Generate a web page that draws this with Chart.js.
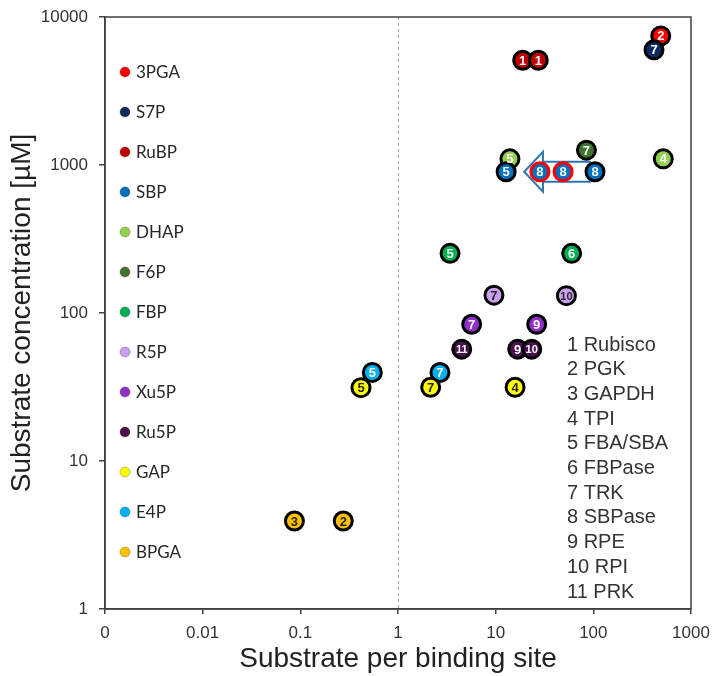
<!DOCTYPE html>
<html><head><meta charset="utf-8">
<script src="https://cdn.jsdelivr.net/npm/chart.js@4.4.1/dist/chart.umd.min.js"></script>
<style>html,body{margin:0;padding:0;background:#fff;}canvas{display:block;}</style>
</head><body>
<canvas id="c" width="719" height="676"></canvas>
<script>
// ---------------- DATA ----------------
const metabolites = ['3PGA','S7P','RuBP','SBP','DHAP','F6P','FBP','R5P','Xu5P','Ru5P','GAP','E4P','BPGA'];
const enzymes = ['Rubisco','PGK','GAPDH','TPI','FBA/SBA','FBPase','TRK','SBPase','RPE','RPI','PRK'];

// one entry per plotted point (later entries are drawn on top)
const ptMetabolite = ['BPGA','BPGA','E4P','E4P','GAP','GAP','GAP','Ru5P','Ru5P','Ru5P','Xu5P','Xu5P','R5P','R5P','FBP','FBP','DHAP','DHAP','F6P','SBP','SBP','SBP','SBP','RuBP','RuBP','3PGA','S7P'];
const ptEnzyme     = [3,2,5,7,5,7,4,11,9,10,7,9,7,10,5,6,5,4,7,5,8,8,8,1,1,2,7];
const ptX          = [0.087,0.275,0.546,2.69,0.418,2.16,15.8,4.49,16.8,23.4,5.68,26.3,9.6,53,3.41,60,14,520,85,12.8,28.4,49,104,18.9,27.3,490,418];
const ptY          = [3.93,3.93,39.7,39.6,31.3,31.5,31.5,57,57,57,84,84,132,131,253,253,1100,1100,1260,900,900,900,900,5100,5100,7450,6000];

const xTickValues = [0.001,0.01,0.1,1,10,100,1000];
const xTickLabels = ['0','0.01','0.1','1','10','100','1000'];
const yTickValues = [1,10,100,1000,10000];
const yTickLabels = ['1','10','100','1000','10000'];

const refLineX = 1;              // dashed vertical reference
const arrowFromX = 92, arrowToX = 19.6, arrowHeadX = 30.5, arrowY = 900;

// ---------------- STYLE ----------------
const metaboliteColors = {
  '3PGA':'#ff0000','S7P':'#0d2b5e','RuBP':'#c00000','SBP':'#0070c0','DHAP':'#92d050',
  'F6P':'#3f7430','FBP':'#00b050','R5P':'#c9a0ee','Xu5P':'#9030c8','Ru5P':'#4b1050',
  'GAP':'#ffff00','E4P':'#00b0f0','BPGA':'#ffc000'
};
const darkLabelOn = ['GAP','BPGA','R5P'];
const redRimIdx = [20,21];
const FONT = "'Liberation Sans', Arial, sans-serif";
const AXIS = '#404040';

const pointColors = ptMetabolite.map(m => metaboliteColors[m]);
const pointBorders = ptMetabolite.map((m,i) => redRimIdx.includes(i) ? '#ff0000' : '#000000');

const framePlugin = {
  id:'frame',
  beforeDatasetsDraw(chart){
    const {ctx, chartArea:a, scales:{x,y}} = chart;
    ctx.save();
    const px = x.getPixelForValue(refLineX);
    ctx.strokeStyle = '#a6a6a6'; ctx.lineWidth = 1; ctx.setLineDash([3,3]);
    ctx.beginPath(); ctx.moveTo(px+0.5, a.top); ctx.lineTo(px+0.5, a.bottom); ctx.stroke();
    ctx.setLineDash([]);
    ctx.strokeStyle = AXIS; ctx.lineWidth = 1.5;
    ctx.strokeRect(a.left, a.top, a.right-a.left, a.bottom-a.top);
    const yy = y.getPixelForValue(arrowY);
    const x0 = x.getPixelForValue(arrowFromX), xt = x.getPixelForValue(arrowToX), xh = x.getPixelForValue(arrowHeadX);
    const sh = 10, hh = 20;
    ctx.beginPath();
    ctx.moveTo(x0, yy-sh); ctx.lineTo(xh, yy-sh); ctx.lineTo(xh, yy-hh); ctx.lineTo(xt, yy);
    ctx.lineTo(xh, yy+hh); ctx.lineTo(xh, yy+sh); ctx.lineTo(x0, yy+sh); ctx.closePath();
    ctx.fillStyle = '#ffffff'; ctx.fill();
    ctx.strokeStyle = '#2e75b6'; ctx.lineWidth = 2; ctx.stroke();
    ctx.restore();
  },
  afterDatasetsDraw(chart){
    const {ctx} = chart;
    const meta = chart.getDatasetMeta(0);
    ctx.save();
    ctx.textAlign = 'center'; ctx.textBaseline = 'middle';
    meta.data.forEach((el,i) => {
      const t = String(ptEnzyme[i]);
      ctx.font = 'bold ' + (t.length > 1 ? 11 : 13) + 'px ' + FONT;
      ctx.fillStyle = darkLabelOn.includes(ptMetabolite[i]) ? '#262626' : '#ffffff';
      ctx.fillText(t, el.x, el.y + 1);
    });
    ctx.restore();
  },
  afterDraw(chart){
    const {ctx} = chart;
    ctx.save();
    ctx.textBaseline = 'middle'; ctx.textAlign = 'left';
    ctx.font = "17px Lato, 'Open Sans', sans-serif";
    metabolites.forEach((m,i) => {
      const cy = 72 + i*40;
      ctx.beginPath(); ctx.arc(125, cy, 5, 0, Math.PI*2);
      ctx.fillStyle = metaboliteColors[m]; ctx.fill();
      ctx.strokeStyle = 'rgba(0,0,0,0.3)'; ctx.lineWidth = 0.8; ctx.stroke();
      ctx.fillStyle = '#262626';
      ctx.fillText(m, 136, cy + 1);
    });
    ctx.font = '20px ' + FONT;
    enzymes.forEach((e,i) => {
      ctx.fillStyle = '#333333';
      ctx.fillText((i+1) + ' ' + e, 567, 345 + i*24.7);
    });
    ctx.restore();
  }
};

new Chart(document.getElementById('c'), {
  type:'scatter',
  data:{datasets:[{
    data: ptX.map((x,i) => ({x, y: ptY[i]})),
    backgroundColor: pointColors,
    borderColor: pointBorders,
    borderWidth: 3,
    pointRadius: 9,
    pointHoverRadius: 9
  }]},
  options:{
    responsive:false, animation:false, devicePixelRatio:1,
    layout:{padding:{top:17, right:28, left:0, bottom:0}},
    plugins:{legend:{display:false}, tooltip:{enabled:false}},
    scales:{
      x:{
        type:'logarithmic', min:0.001, max:1000,
        afterBuildTicks: s => { s.ticks = xTickValues.map(v => ({value:v})); },
        afterFit: s => { s.height = 67; },
        grid:{display:true, drawOnChartArea:false, drawTicks:true, tickLength:5, color:AXIS, lineWidth:1.5},
        border:{display:true, color:AXIS, width:1.5},
        ticks:{autoSkip:false, maxRotation:0, padding:9, color:'#333',
          font:{family:FONT, size:17},
          callback:(v,i) => xTickLabels[i]},
        title:{display:true, text:'Substrate per binding site', color:'#222',
          font:{family:FONT, size:28}, padding:{top:0, bottom:0}}
      },
      y:{
        type:'logarithmic', min:1, max:10000,
        afterBuildTicks: s => { s.ticks = yTickValues.map(v => ({value:v})); },
        afterFit: s => { s.width = 105; s.paddingTop = 0; s.paddingBottom = 0; },
        grid:{display:true, drawOnChartArea:false, drawTicks:true, tickLength:6, color:AXIS, lineWidth:1.5},
        border:{display:true, color:AXIS, width:1.5},
        ticks:{autoSkip:false, padding:11, color:'#333',
          font:{family:FONT, size:17},
          callback:(v,i) => yTickLabels[i]},
        title:{display:true, text:'Substrate concentration [µM]', color:'#222',
          font:{family:FONT, size:28}, padding:{top:5, bottom:0}}
      }
    }
  },
  plugins:[framePlugin]
});
</script>
</body></html>
